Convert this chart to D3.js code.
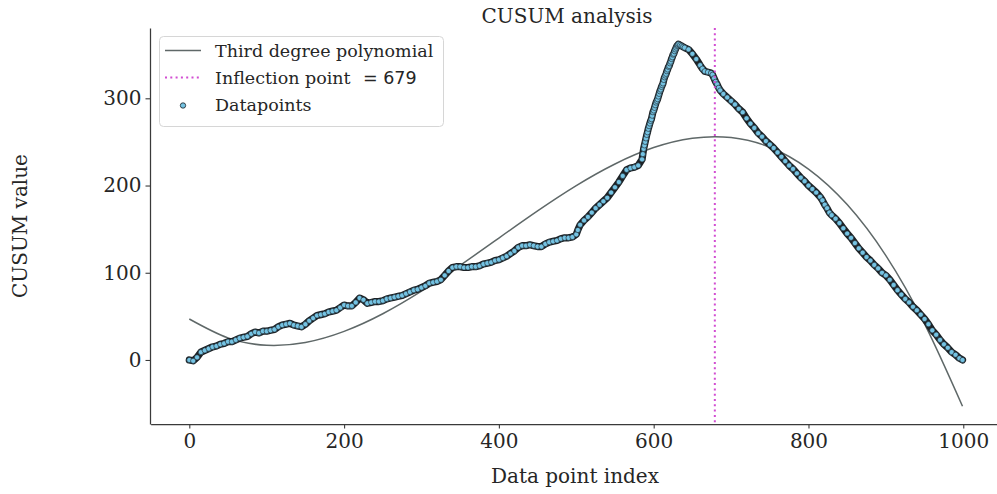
<!DOCTYPE html>
<html>
<head>
<meta charset="utf-8">
<script src="https://cdn.jsdelivr.net/npm/d3@7"></script>
<style>
  body { margin: 0; background: #fff; }
  text { font-family: "DejaVu Serif", serif; fill: #262626; }
</style>
</head>
<body>
<svg id="chart" width="997" height="494"></svg>
<script>
// CUSUM values (index, value)
var pointIndex = [
  0, 5, 10, 15, 20, 25, 30, 35, 40, 45,
  50, 55, 60, 65, 70, 75, 80, 85, 90, 95,
  100, 105, 110, 115, 120, 125, 130, 135, 140, 145,
  150, 155, 160, 165, 170, 175, 180, 185, 190, 195,
  200, 205, 210, 215, 220, 225, 230, 235, 240, 245,
  250, 255, 260, 265, 270, 275, 280, 285, 290, 295,
  300, 305, 310, 315, 320, 325, 330, 335, 340, 345,
  350, 355, 360, 365, 370, 375, 380, 385, 390, 395,
  400, 405, 410, 415, 420, 425, 430, 435, 440, 445,
  450, 455, 460, 465, 470, 475, 480, 485, 490, 495,
  500, 502, 505, 510, 515, 520, 525, 530, 535, 540,
  545, 550, 555, 560, 565, 570, 575, 580,
  585, 586, 587, 588, 589, 590, 591, 592, 593, 594,
  595, 596, 597, 598, 599, 600, 601, 602, 603, 604,
  605, 606, 607, 608, 609, 610, 611, 612, 613, 614,
  615, 616, 617, 618, 619, 620, 621, 622, 623, 624,
  625, 626, 627, 628, 629, 630, 631, 632,
  634, 636, 638, 640, 645, 650, 655, 660, 663, 666,
  670, 674, 676, 678, 680, 682, 684, 686, 690,
  695, 700, 705, 710, 715, 720, 725, 730, 735, 740,
  745, 750, 755, 760, 765, 770, 775, 780, 785, 790,
  795, 800, 805, 810, 815,
  818, 821, 824, 827,
  830, 835, 840, 845, 850, 855, 860, 865, 870, 875,
  880, 885, 890, 895, 900, 905, 910, 915, 920, 925,
  930, 935, 940, 945, 950, 955, 960, 965, 970, 975,
  980, 985, 990, 995, 999
];
var cusumValue = [
  0, -1, 3, 9, 11, 13, 15, 16, 18, 19,
  21, 21, 23, 25, 26, 27, 30, 32, 31, 33,
  33, 34, 35, 38, 40, 41, 42, 40, 39, 38,
  41, 45, 48, 51, 52, 53, 55, 56, 57, 60,
  63, 62, 62, 66, 71, 69, 65, 66, 67, 67,
  68, 70, 71, 72, 73, 74, 76, 78, 80, 81,
  83, 85, 88, 89, 90, 92, 97, 102, 106, 107,
  107, 106, 106, 107, 107, 108, 110, 111, 112, 114,
  115, 117, 119, 122, 125, 129, 131, 131, 132, 131,
  130, 130, 133, 135, 136, 137, 139, 140, 140, 141,
  144, 149, 155, 160, 164, 169, 174, 178, 182, 186,
  192, 198, 204, 211, 218, 220, 221, 223,
  230, 236, 242, 246, 250, 254, 258, 261, 265, 268,
  271, 274, 276, 280, 284, 286, 289, 292, 295, 297,
  299, 302, 305, 308, 310, 313, 315, 317, 321, 324,
  326, 328, 331, 333, 336, 337, 340, 342, 345, 347,
  350, 351, 354, 356, 358, 360, 361, 362,
  361, 360, 359, 358, 356, 351, 345, 338, 334, 331,
  330, 329, 327, 323, 319, 316, 312, 309, 305,
  301, 297, 293, 288, 284, 277, 271, 266, 260, 256,
  251, 247, 243, 238, 233, 228, 223, 219, 214, 209,
  205, 200, 196, 192, 187,
  183, 178, 174, 169,
  166, 162, 157, 151, 145, 140, 134, 128, 123, 118,
  114, 109, 105, 100, 97, 92, 86, 80, 75, 70,
  66, 61, 57, 52, 47, 41, 34, 29, 23, 18,
  14, 9, 6, 2, 0
];

// third degree polynomial fit
var polyIndex = [0, 50, 100, 150, 200, 250, 300, 350, 400, 450, 500,
                 550, 600, 650, 700, 750, 800, 850, 900, 950, 999];
var polyValue = [47, 25.3, 16.9, 20.1, 32.8, 53, 78.9, 108.5, 139.8, 170.9, 199.9,
                 224.7, 243.5, 254.2, 255, 243.9, 218.9, 178.2, 119.7, 41.4, -53];

var inflectionIndex = 679;
var xTicks = [0, 200, 400, 600, 800, 1000];
var yTicks = [0, 100, 200, 300];

var svg = d3.select("#chart");
var ink = "#262626";
var pointFill = "#74c3e3";

var x = d3.scaleLinear().domain([-50, 1049]).range([150.6, 1001.2]);
var y = d3.scaleLinear().domain([-73.4, 380.6]).range([424, 28]);

// axes
var xAxis = svg.append("g")
  .attr("transform", "translate(0,424)")
  .call(d3.axisBottom(x).tickValues(xTicks).tickFormat(d3.format("d"))
    .tickSize(4.5).tickSizeOuter(0).tickPadding(5));
var yAxis = svg.append("g")
  .attr("transform", "translate(150,0)")
  .call(d3.axisLeft(y).tickValues(yTicks).tickFormat(d3.format("d"))
    .tickSize(4.5).tickSizeOuter(0).tickPadding(4));
[xAxis, yAxis].forEach(function (g) {
  g.select(".domain").attr("stroke", "#3a3a3a").attr("stroke-width", 1.25);
  g.selectAll(".tick line").attr("stroke", "#3a3a3a").attr("stroke-width", 1.1);
  g.selectAll(".tick text")
    .attr("fill", ink)
    .style("font-family", "'DejaVu Serif', serif")
    .style("font-size", "20px");
});

// polynomial
svg.append("path")
  .datum(polyIndex)
  .attr("fill", "none")
  .attr("stroke", "#5f6868")
  .attr("stroke-width", 1.5)
  .attr("d", d3.line()
    .x(function (d) { return x(d); })
    .y(function (d, i) { return y(polyValue[i]); })
    .curve(d3.curveNatural));

// datapoints: dense marker edges merge into a dark band in the original,
// so a dark halo runs under the markers
var pointLine = d3.line()
  .x(function (d) { return x(d); })
  .y(function (d, i) { return y(cusumValue[i]); });
svg.append("path")
  .datum(pointIndex)
  .attr("fill", "none")
  .attr("stroke", "#1c2226")
  .attr("stroke-width", 7.2)
  .attr("stroke-linejoin", "round")
  .attr("stroke-linecap", "round")
  .attr("d", pointLine);
svg.append("g").selectAll("circle")
  .data(pointIndex)
  .enter().append("circle")
  .attr("cx", function (d) { return x(d); })
  .attr("cy", function (d, i) { return y(cusumValue[i]); })
  .attr("r", 2.6)
  .attr("fill", pointFill)
  .attr("stroke", "#1c2226")
  .attr("stroke-width", 0.6);

// inflection point line
svg.append("line")
  .attr("x1", x(inflectionIndex)).attr("x2", x(inflectionIndex))
  .attr("y1", 28).attr("y2", 424)
  .attr("stroke", "#d24dd2")
  .attr("stroke-width", 2)
  .attr("stroke-dasharray", "2,3.3");

// titles
svg.append("text")
  .attr("x", 567).attr("y", 23)
  .attr("text-anchor", "middle")
  .style("font-size", "20px")
  .text("CUSUM analysis");
svg.append("text")
  .attr("x", 575).attr("y", 483)
  .attr("text-anchor", "middle")
  .style("font-size", "20px")
  .text("Data point index");
svg.append("text")
  .attr("transform", "translate(27,226) rotate(-90)")
  .attr("text-anchor", "middle")
  .style("font-size", "20px")
  .text("CUSUM value");

// legend
var legend = svg.append("g");
legend.append("rect")
  .attr("x", 159.5).attr("y", 36.5)
  .attr("width", 284).attr("height", 90)
  .attr("rx", 4)
  .attr("fill", "#fff").attr("fill-opacity", 0.8)
  .attr("stroke", "#d6d6d6");
legend.append("line")
  .attr("x1", 165).attr("x2", 201).attr("y1", 50.5).attr("y2", 50.5)
  .attr("stroke", "#5f6868").attr("stroke-width", 1.5);
legend.append("line")
  .attr("x1", 165).attr("x2", 201).attr("y1", 77.5).attr("y2", 77.5)
  .attr("stroke", "#d24dd2").attr("stroke-width", 2).attr("stroke-dasharray", "2,3.3");
legend.append("circle")
  .attr("cx", 183).attr("cy", 105.5).attr("r", 2.7)
  .attr("fill", pointFill).attr("stroke", "#1c2226").attr("stroke-width", 0.8);

var legendText = [
  {y: 57, label: "Third degree polynomial"},
  {y: 84, label: "Inflection point"},
  {y: 111, label: "Datapoints"}
];
legendText.forEach(function (d) {
  legend.append("text")
    .attr("x", 215).attr("y", d.y)
    .style("font-size", "17.5px")
    .text(d.label);
});
legend.append("text")
  .attr("x", 363).attr("y", 84)
  .style("font-family", "'DejaVu Sans', sans-serif")
  .style("font-size", "17.5px")
  .text("= " + inflectionIndex);
</script>
</body>
</html>
